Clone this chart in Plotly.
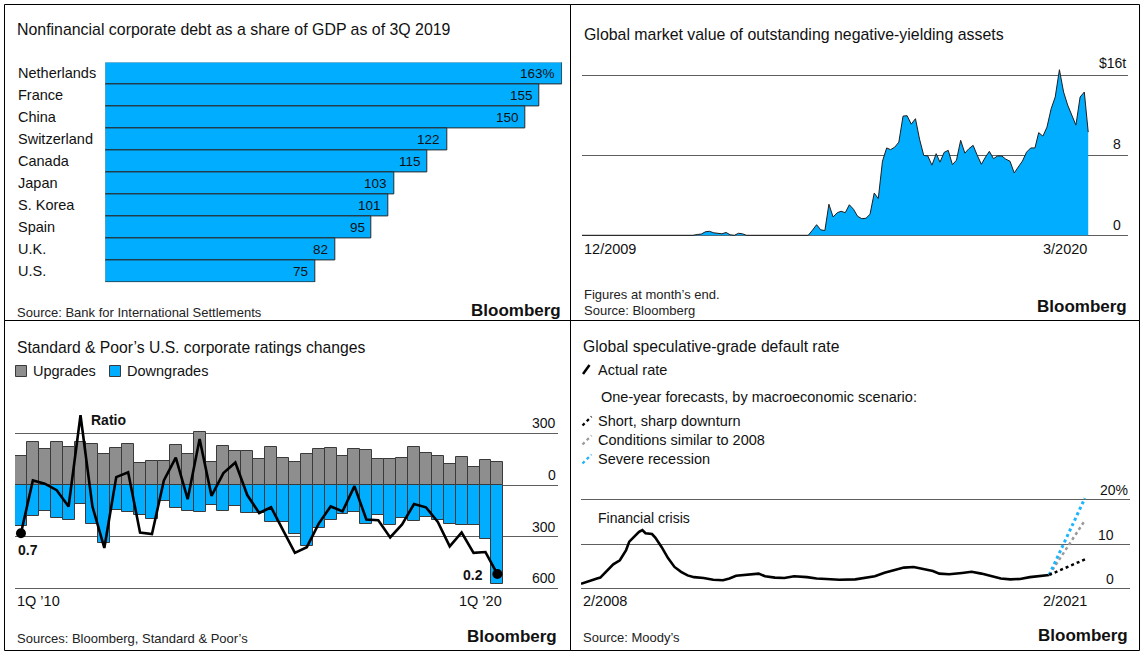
import plotly.graph_objects as go
import pandas as pd

W, H = 1142, 654
def X(px): return px / W
def Y(py): return 1 - py / H

FONT = "Liberation Sans, Arial, sans-serif"
BLUE = "#00adff"
GREY = "#8e8e8e"
GRID = "#5e5e5e"
TXT = "#111111"

# ---------------- Panel 1: corporate debt ----------------
countries = ["Netherlands", "France", "China", "Switzerland", "Canada",
             "Japan", "S. Korea", "Spain", "U.K.", "U.S."]
debt_share = [163, 155, 150, 122, 115, 103, 101, 95, 82, 75]
debt_labels = ["163%", "155", "150", "122", "115", "103", "101", "95", "82", "75"]

# ---------------- Panel 2: negative-yielding assets ($t, month end) ----------------
neg_yield_start = "2009-12-01"
neg_yield = [
    0, 0, 0, 0, 0, 0, 0, 0, 0, 0, 0, 0, 0, 0, 0, 0, 0, 0, 0, 0, 0, 0,
    0.05, 0.03, 0, 0, 0, 0,
    0.08, 0.12, 0.35, 0.40, 0.25, 0.18, 0.15, 0.28, 0.05, 0, 0.2, 0.15,
    0, 0, 0, 0, 0, 0, 0, 0,
    0.05, 0.03,
    0, 0, 0, 0, 0, 0,
    0.5, 1.06, 0.55, 0.47, 3.1, 1.83, 2.26, 2.4, 2.26, 3.05,
    2.6, 1.9, 1.66, 1.7, 2.1, 4.22, 3.66, 7.4, 8.72, 8.55,
    8.8, 9.3, 11.9, 11.94, 11.1, 11.64, 9.6, 7.98, 7.92, 7.0,
    8.15, 7.3, 8.28, 8.48, 7.05, 7.5, 9.48, 8.2, 8.65, 8.98,
    8.0, 7.09, 7.82, 8.38, 7.65, 7.92, 7.92, 7.6, 7.39, 6.22,
    6.82, 7.42, 8.3, 8.72, 8.72, 10.25, 9.9, 10.8, 12.64, 13.81,
    16.53, 14.3, 13.0, 11.9, 11.0, 13.81, 14.3, 10.3,
]
neg_yield_dates = pd.date_range(neg_yield_start, periods=len(neg_yield), freq="MS")

# ---------------- Panel 3: S&P ratings changes ----------------
quarters = [f"{q}Q{y}" for y in range(2010, 2021) for q in range(1, 5)][:41]
upgrades = [168, 252, 207, 248, 223, 248, 238, 180, 213, 238,
            126, 139, 139, 232, 178, 306, 135, 228, 197, 197,
            149, 223, 155, 132, 182, 209, 213, 168, 207, 201,
            153, 149, 157, 223, 188, 168, 122, 164, 106, 147,
            132]
downgrades = [238, 180, 149, 190, 203, 110, 225, 339, 145, 157,
              174, 199, 95, 136, 149, 155, 116, 151, 122, 161,
              164, 213, 213, 284, 354, 252, 203, 168, 158, 228,
              176, 232, 194, 208, 186, 201, 226, 233, 233, 314,
              573]
ratio = [0.70, 1.35, 1.31, 1.23, 1.03, 2.15, 1.03, 0.52, 1.39, 1.45,
         0.71, 0.69, 1.35, 1.63, 1.12, 1.86, 1.16, 1.44, 1.57, 1.17,
         0.95, 1.02, 0.74, 0.46, 0.53, 0.82, 1.03, 0.97, 1.28, 0.87,
         0.86, 0.65, 0.81, 1.06, 1.02, 0.84, 0.54, 0.71, 0.46, 0.47,
         0.20]

# ---------------- Panel 4: default rate (%) ----------------
default_dates = ["2008-02", "2008-05", "2008-07", "2008-08", "2008-10", "2008-12",
                 "2009-02", "2009-04", "2009-05", "2009-07", "2009-08", "2009-09", "2009-10", "2009-12",
                 "2010-01", "2010-03", "2010-05", "2010-07", "2010-09", "2010-11",
                 "2011-01", "2011-04", "2011-07", "2011-10", "2011-12",
                 "2012-02", "2012-06", "2012-09", "2012-11",
                 "2013-02", "2013-05", "2013-08", "2013-12",
                 "2014-03", "2014-06", "2014-10",
                 "2015-03", "2015-06", "2015-09", "2015-12",
                 "2016-03", "2016-06", "2016-09", "2016-12",
                 "2017-03", "2017-05", "2017-08", "2017-12",
                 "2018-03", "2018-06", "2018-09", "2018-12",
                 "2019-03", "2019-06", "2019-09", "2019-12", "2020-03"]
default_rate = [1.1, 1.9, 2.3, 2.5, 4.1, 5.5,
                6.4, 8.7, 10.6, 12.1, 12.8, 13.2, 12.5, 12.3,
                11.5, 9.4, 6.9, 4.9, 3.8, 3.0,
                2.6, 2.4, 2.0, 1.9, 2.3,
                2.9, 3.2, 3.4, 2.8,
                2.5, 2.4, 2.8, 2.6,
                2.3, 2.2, 2.0,
                2.1, 2.5, 2.8, 3.6,
                4.15, 4.75, 4.9, 4.5,
                4.0, 3.4, 3.25, 3.55,
                3.8, 3.4, 2.9, 2.3,
                2.1, 2.2, 2.6, 2.9, 3.1]
forecast_dates = ["2020-03", "2021-02"]
forecast_short = [3.1, 6.6]
forecast_2008 = [3.1, 15.4]
forecast_severe = [3.1, 20.4]

fig = go.Figure()

# Panel 1 bars
fig.add_trace(go.Bar(x=debt_share, y=countries, orientation="h",
                     marker=dict(color=BLUE, line=dict(color="#2a2a2a", width=1)),
                     xaxis="x", yaxis="y", hoverinfo="skip"))

# Panel 2 area
fig.add_trace(go.Scatter(x=neg_yield_dates, y=neg_yield, mode="lines", fill="tozeroy",
                         fillcolor=BLUE, line=dict(color="#1e1e1e", width=1),
                         xaxis="x2", yaxis="y2", hoverinfo="skip"))

# Panel 3 bars + ratio
fig.add_trace(go.Bar(x=quarters, y=upgrades,
                     marker=dict(color=GREY, line=dict(color="#3a3a3a", width=1)),
                     xaxis="x3", yaxis="y3", hoverinfo="skip"))
fig.add_trace(go.Bar(x=quarters, y=[-d for d in downgrades],
                     marker=dict(color=BLUE, line=dict(color="#3a3a3a", width=1)),
                     xaxis="x3", yaxis="y3", hoverinfo="skip"))
fig.add_trace(go.Scatter(x=quarters, y=ratio, mode="lines",
                         line=dict(color="black", width=2.6),
                         xaxis="x3", yaxis="y4", hoverinfo="skip"))
fig.add_trace(go.Scatter(x=[quarters[0], quarters[-1]], y=[ratio[0], ratio[-1]],
                         mode="markers", marker=dict(color="black", size=10),
                         xaxis="x3", yaxis="y4", hoverinfo="skip"))

# Panel 4 lines
fig.add_trace(go.Scatter(x=default_dates, y=default_rate, mode="lines",
                         line=dict(color="black", width=2.6),
                         xaxis="x5", yaxis="y5", hoverinfo="skip"))
fig.add_trace(go.Scatter(x=forecast_dates, y=forecast_2008, mode="lines",
                         line=dict(color="#9a9a9a", width=2.5, dash="dot"),
                         xaxis="x5", yaxis="y5", hoverinfo="skip"))
fig.add_trace(go.Scatter(x=forecast_dates, y=forecast_severe, mode="lines",
                         line=dict(color="#1cb3ff", width=3, dash="dot"),
                         xaxis="x5", yaxis="y5", hoverinfo="skip"))
fig.add_trace(go.Scatter(x=forecast_dates, y=forecast_short, mode="lines",
                         line=dict(color="black", width=2.5, dash="dot"),
                         xaxis="x5", yaxis="y5", hoverinfo="skip"))

hidden = dict(showgrid=False, zeroline=False, showticklabels=False, showline=False, ticks="")
grid = dict(showgrid=True, gridcolor=GRID, gridwidth=1.2, zeroline=False,
            showticklabels=False, showline=False, ticks="")

layout = dict(
    width=W, height=H, autosize=False,
    margin=dict(l=0, r=0, t=0, b=0, pad=0),
    paper_bgcolor="white", plot_bgcolor="rgba(0,0,0,0)",
    showlegend=False, barmode="relative", bargap=0,
    font=dict(family=FONT, color=TXT),
    xaxis=dict(domain=[X(105.3), X(562.1)], range=[0, 163], anchor="y", **hidden),
    yaxis=dict(domain=[Y(282.3), Y(62.4)], type="category", autorange="reversed",
               anchor="x", **hidden),
    xaxis2=dict(domain=[X(581.9), X(1128.4)], type="date",
                range=["2009-12-01", "2020-12-23"], anchor="y2", **hidden),
    yaxis2=dict(domain=[Y(240), Y(55)], range=[-0.47, 18.0], tickvals=[0, 8, 16],
                anchor="x2", **grid),
    xaxis3=dict(domain=[X(15), X(558)], type="category", range=[-0.5, 45.09],
                anchor="y3", **hidden),
    yaxis3=dict(domain=[Y(595), Y(405)], range=[-638.7, 464.5],
                tickvals=[-600, -300, 0, 300], anchor="x3", **grid),
    yaxis4=dict(overlaying="y3", range=[-0.0577, 2.2764], anchor="x3", side="right",
                visible=False),
    xaxis5=dict(domain=[X(581), X(1129.5)], type="date",
                range=["2008-02-01", "2022-03-28"], anchor="y5", **hidden),
    yaxis5=dict(domain=[Y(592), Y(480)], range=[-0.743, 24.48], tickvals=[0, 10, 20],
                anchor="x5", **grid),
)
fig.update_layout(**layout)

ann = []
def txt(text, px, py, size=14, anchor="left", bold=False, color=TXT, yanchor="middle"):
    t = f"<b>{text}</b>" if bold else text
    ann.append(dict(text=t, x=X(px), y=Y(py), xref="paper", yref="paper",
                    xanchor=anchor, yanchor=yanchor, showarrow=False,
                    font=dict(family=FONT, size=size, color=color)))

# Panel 1 text
txt("Nonfinancial corporate debt as a share of GDP as of 3Q 2019", 15, 29.3, 15.9)
for c in countries:
    ann.append(dict(text=c, x=X(16), y=c, xref="paper", yref="y", xanchor="left",
                    yanchor="middle", showarrow=False, font=dict(family=FONT, size=14.5, color=TXT)))
for c, v, lab in zip(countries, debt_share, debt_labels):
    ann.append(dict(text=lab, x=v, y=c, xref="x", yref="y", xanchor="right",
                    yanchor="middle", xshift=-5, showarrow=False,
                    font=dict(family=FONT, size=13.5, color=TXT)))
txt("Source: Bank for International Settlements", 15, 312, 13, color="#222")
txt("Bloomberg", 562.5, 310.5, 17, anchor="right", bold=True, color="#111")

# Panel 2 text
txt("Global market value of outstanding negative-yielding assets", 581.5, 34.3, 15.9)
txt("$16t", 1128, 63.3, 14, anchor="right")
txt("8", 1123, 144, 14, anchor="right")
txt("0", 1123, 225, 14, anchor="right")
txt("12/2009", 581.5, 249.3, 14.5)
txt("3/2020", 1088.5, 249.3, 14.5, anchor="right")
txt("Figures at month’s end.", 581.5, 294, 13, color="#222")
txt("Source: Bloomberg", 581.5, 310, 13, color="#222")
txt("Bloomberg", 1128.5, 306.5, 17, anchor="right", bold=True, color="#111")

# Panel 3 text
txt("Standard & Poor’s U.S. corporate ratings changes", 15, 347.7, 15.7)
txt("Upgrades", 31, 371, 14.5)
txt("Downgrades", 124.5, 371, 14.5)
txt("Ratio", 88.5, 419.7, 14, bold=True)
txt("0.7", 15.5, 549.7, 14, bold=True)
txt("0.2", 485, 575.3, 14, anchor="right", bold=True)
txt("300", 558, 423, 14, anchor="right")
txt("0", 558, 475, 14, anchor="right")
txt("300", 558, 527, 14, anchor="right")
txt("600", 558, 578, 14, anchor="right")
txt("1Q ’10", 15, 601, 14.5)
txt("1Q ’20", 504, 601, 14.5, anchor="right")
txt("Sources: Bloomberg, Standard & Poor’s", 15, 638, 13, color="#222")
txt("Bloomberg", 558.5, 636.5, 17, anchor="right", bold=True, color="#111")

# Panel 4 text
txt("Global speculative-grade default rate", 581, 346.3, 15.7)
txt("Actual rate", 596, 370.3, 14.5)
txt("One-year forecasts, by macroeconomic scenario:", 599, 397, 14.5)
txt("Short, sharp downturn", 596, 421, 14.5)
txt("Conditions similar to 2008", 596, 440.3, 14.5)
txt("Severe recession", 596, 459.3, 14.5)
txt("Financial crisis", 595.5, 517.7, 14)
txt("20%", 1129.5, 490.3, 14, anchor="right")
txt("10", 1116, 535.3, 14, anchor="right")
txt("0", 1116, 578.7, 14, anchor="right")
txt("2/2008", 581, 601, 14.5)
txt("2/2021", 1089, 601, 14.5, anchor="right")
txt("Source: Moody’s", 581, 637.7, 13, color="#222")
txt("Bloomberg", 1129.5, 635.5, 17, anchor="right", bold=True, color="#111")

fig.update_layout(annotations=ann)

shapes = []
def rect(x0, y0, x1, y1, fill=None, line="black", w=1):
    shapes.append(dict(type="rect", xref="paper", yref="paper",
                       x0=X(x0), x1=X(x1), y0=Y(y1), y1=Y(y0),
                       fillcolor=fill if fill else "rgba(0,0,0,0)",
                       line=dict(color=line, width=w), layer="above"))
def seg(x0, y0, x1, y1, color, w, dash="solid"):
    shapes.append(dict(type="line", xref="paper", yref="paper",
                       x0=X(x0), x1=X(x1), y0=Y(y0), y1=Y(y1),
                       line=dict(color=color, width=w, dash=dash), layer="above"))

# panel frames
rect(4.5, 4.5, 570.5, 320.5)
rect(570.5, 4.5, 1139.5, 320.5)
rect(4.5, 320.5, 570.5, 650.5)
rect(570.5, 320.5, 1139.5, 650.5)
# legend swatches panel 3
rect(15.5, 365.5, 26.5, 376.5, fill=GREY, line="#3a3a3a")
rect(109.5, 365.5, 120.5, 376.5, fill=BLUE, line="#3a3a3a")
# legend icons panel 4
seg(583, 374, 589.5, 365, "black", 2.5)
seg(582.5, 425.5, 591.5, 416.5, "black", 2.2, "dot")
seg(582.5, 444.5, 591.5, 435.5, "#9a9a9a", 2.2, "dot")
seg(582.5, 463.5, 591.5, 454.5, "#1cb3ff", 2.2, "dot")
fig.update_layout(shapes=shapes)

fig.write_html("out.html", config={"displayModeBar": False},
               post_script="document.body.style.margin='0';document.body.style.padding='0';")
